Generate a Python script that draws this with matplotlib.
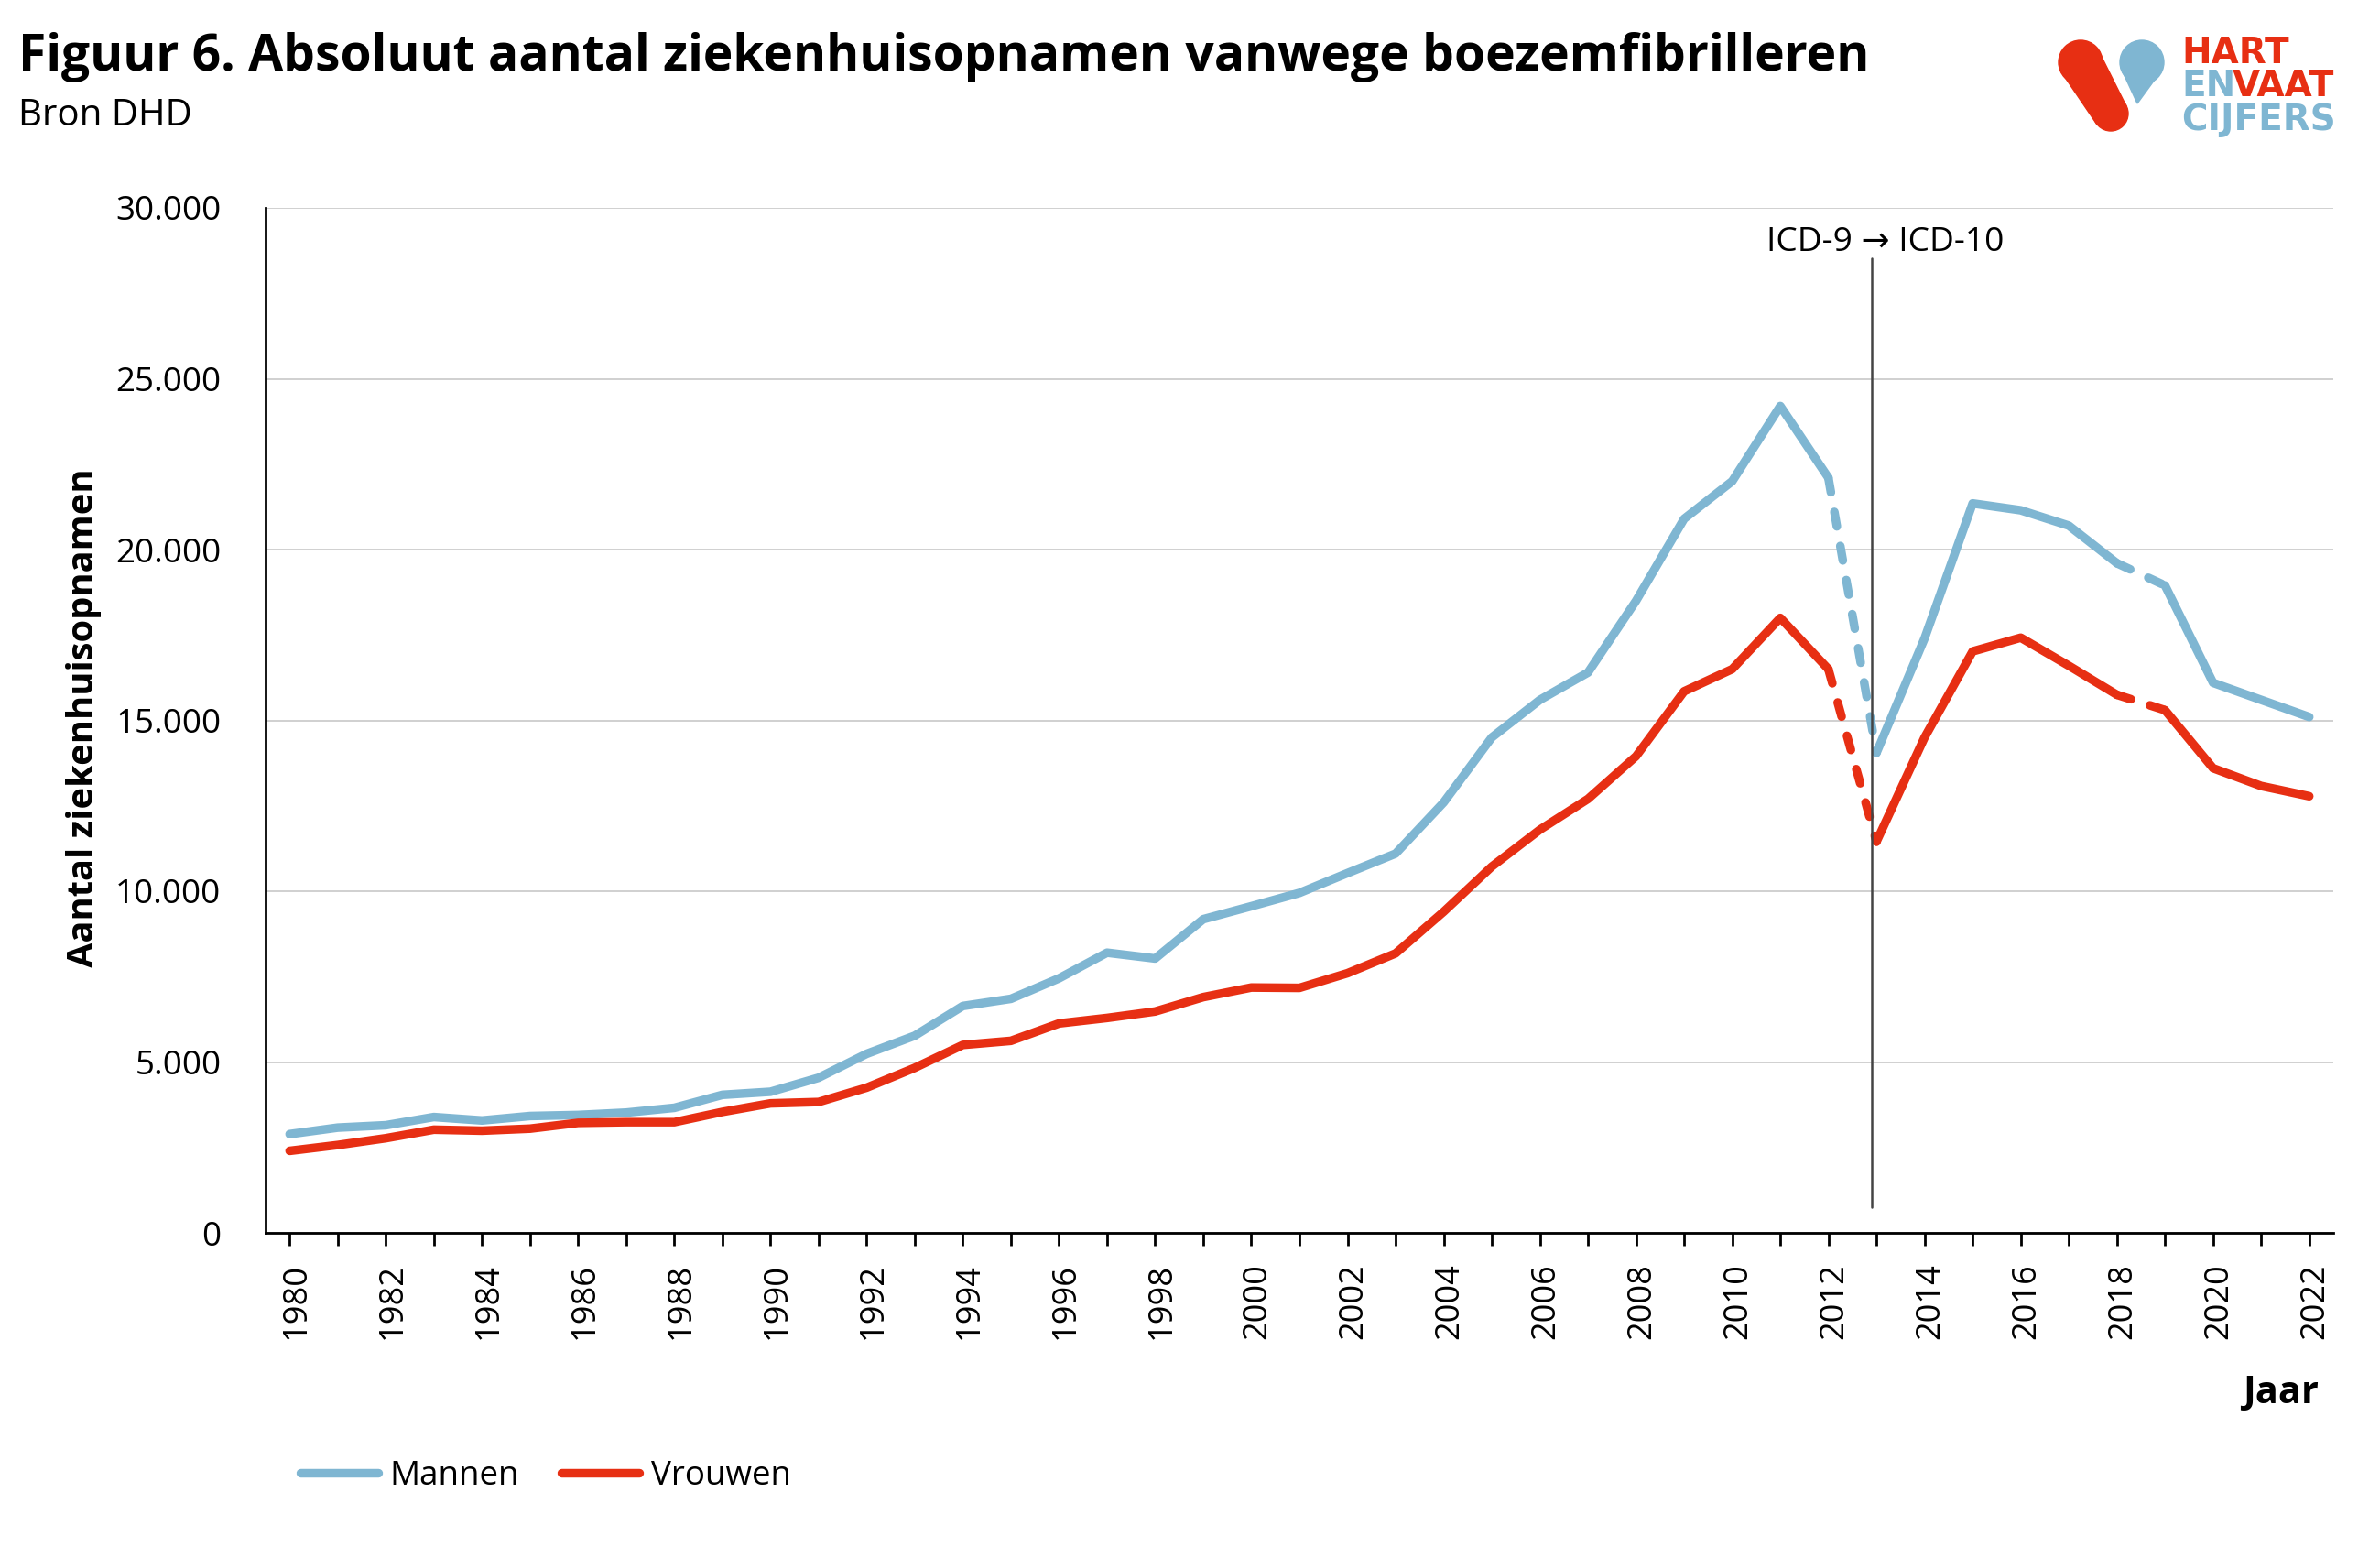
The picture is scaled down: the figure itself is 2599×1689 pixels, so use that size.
import matplotlib
matplotlib.use('Agg')
import matplotlib.pyplot as plt
import numpy as np
from matplotlib.patches import Circle, Polygon
from matplotlib.transforms import ScaledTranslation

years = list(range(1980, 2023))
mannen = [2890, 3080, 3150, 3390, 3290, 3420, 3450, 3520, 3660, 4040, 4130, 4540, 5240, 5770, 6640,
          6850, 7450, 8200, 8030, 9180, 9560, 9950, 10530, 11100, 12600, 14500, 15600, 16400, 18500,
          20900, 22000, 24200, 22100, 14050, 17400, 21350, 21150, 20700, 19600, 18950, 16100, 15600, 15100]
vrouwen = [2400, 2570, 2770, 3020, 2990, 3050, 3220, 3240, 3240, 3540, 3790, 3830, 4250, 4830, 5500,
           5620, 6130, 6290, 6480, 6900, 7180, 7170, 7600, 8180, 9400, 10720, 11800, 12700, 13950,
           15850, 16500, 18000, 16500, 11450, 14500, 17020, 17420, 16600, 15750, 15300, 13600, 13080, 12780]
y_ticks = [0, 5000, 10000, 15000, 20000, 25000, 30000]
y_labels = ['0', '5.000', '10.000', '15.000', '20.000', '25.000', '30.000']

blue = '#7FB6D2'
red = '#E72F13'
W, H = 2599, 1689

plt.rcParams['font.family'] = ['Open Sans', 'DejaVu Sans']
plt.rcParams['lines.solid_capstyle'] = 'round'
plt.rcParams['lines.dash_capstyle'] = 'round'

fig = plt.figure(figsize=(W / 100, H / 100), dpi=100)
ax = fig.add_axes([290 / W, 1 - 1346 / H, (2548 - 290) / W, (1346 - 227) / H])

x = np.arange(len(years))
lw = 6.8
dash = (0, (1.7, 2.3))
for vals, col, name in [(mannen, blue, 'Mannen'), (vrouwen, red, 'Vrouwen')]:
    # solid parts, the two breaks in the series are dashed
    ax.plot(x[:33], vals[:33], color=col, lw=lw, label=name, solid_joinstyle='round')
    ax.plot(x[32:34], vals[32:34], color=col, lw=lw, linestyle=dash)
    ax.plot(x[33:39], vals[33:39], color=col, lw=lw, solid_joinstyle='round')
    ax.plot(x[38:40], vals[38:40], color=col, lw=lw, linestyle=dash)
    ax.plot(x[39:], vals[39:], color=col, lw=lw, solid_joinstyle='round')

ax.plot([32.9, 32.9], [755, 28530], color='#444444', lw=1.8, zorder=5)
ax.text(33.19, 28980, 'ICD-9 → ICD-10', ha='center', va='center', fontsize=26.7, color='black')

ax.set_xlim(-0.5, 42.5)
ax.set_ylim(0, 30000)
ax.set_yticks(y_ticks)
ax.set_yticklabels(y_labels, fontsize=26.5)
ax.set_xticks(x)
ax.set_xticklabels([str(y) if y % 2 == 0 else '' for y in years], rotation=90, fontsize=26)
ax.tick_params(axis='y', length=0, pad=35)
ax.tick_params(axis='x', length=10, width=2, pad=14)
# year labels sit a little right of their ticks
shift = ScaledTranslation(7 / 100, 0, fig.dpi_scale_trans)
for lab in ax.get_xticklabels():
    lab.set_transform(lab.get_transform() + shift)
ax.grid(axis='y', color='#C8C8C8', lw=1.2)
ax.set_axisbelow(True)
for s in ['top', 'right']:
    ax.spines[s].set_visible(False)
for s in ['left', 'bottom']:
    ax.spines[s].set_linewidth(2)

fig.text(20 / W, 1 - 62 / H, 'Figuur 6. Absoluut aantal ziekenhuisopnamen vanwege boezemfibrilleren',
         fontsize=39.7, fontweight='bold', va='center')
fig.text(20 / W, 1 - 127 / H, 'Bron DHD', fontsize=29, va='center')
fig.text(92 / W, 1 - 784 / H, 'Aantal ziekenhuisopnamen', fontsize=28.7, fontweight='bold',
         rotation=90, ha='center', va='center')
fig.text(2532 / W, 1 - 1522 / H, 'Jaar', fontsize=30, fontweight='bold', ha='right', va='center')

fig.legend(loc='center left', bbox_to_anchor=(295 / W, 1 - 1612 / H), ncols=2, frameon=False,
           fontsize=26.5, handlelength=2.3, handletextpad=0.35, columnspacing=1.25)

# logo, in pixel coordinates
logo = fig.add_axes([0, 0, 1, 1])
logo.set_xlim(0, W)
logo.set_ylim(H, 0)
logo.axis('off')
logo.add_patch(Circle((2272, 68), 24, color=red))
logo.add_patch(Circle((2305, 124), 19, color=red))
logo.add_patch(Polygon([(2292, 56), (2322, 116), (2290, 136), (2252, 80)], color=red))
logo.add_patch(Circle((2339, 68), 24, color=blue))
logo.add_patch(Polygon([(2316, 74), (2334, 113), (2361, 76)], color=blue))
logo_font = dict(fontsize=28, fontweight='bold', va='center', ha='left', family='DejaVu Sans')
logo.text(2382, 58, 'HART', color=red, **logo_font)
logo.text(2382, 94, 'EN', color=blue, **logo_font)
logo.text(2438, 94, 'VAAT', color=red, **logo_font)
logo.text(2382, 131, 'CIJFERS', color=blue, **logo_font)

fig.savefig('out.png', dpi=100)
